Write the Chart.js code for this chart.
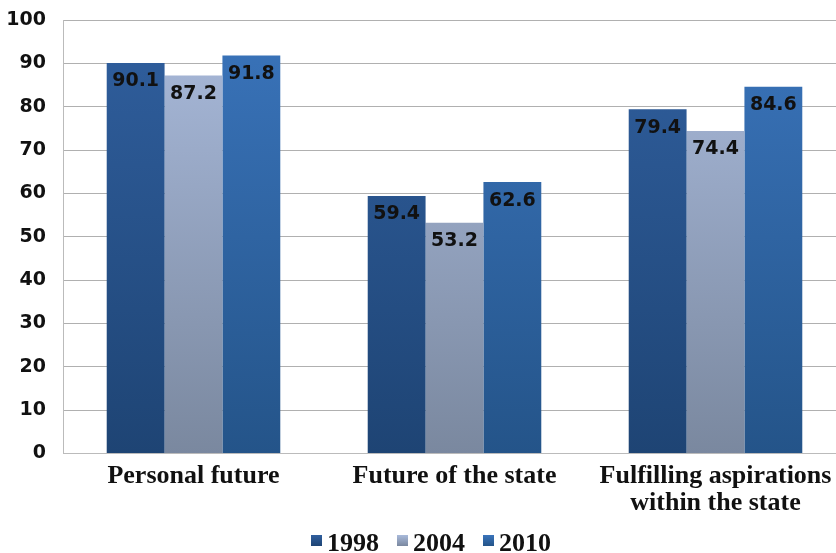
<!DOCTYPE html>
<html>
<head>
<meta charset="utf-8">
<script src="https://cdn.jsdelivr.net/npm/chart.js@4/dist/chart.umd.min.js"></script>
<style>
  html, body { margin: 0; padding: 0; background: #fff; overflow: hidden; }
  #wrap { width: 846px; height: 553px; }
</style>
</head>
<body>
<div id="wrap"><canvas id="chart"></canvas></div>
<script>
const categories = [['Personal future'], ['Future of the state'], ['Fulfilling aspirations', 'within the state']];
const seriesNames = ['1998', '2004', '2010'];
const values1998 = [90.1, 59.4, 79.4];
const values2004 = [87.2, 53.2, 74.4];
const values2010 = [91.8, 62.6, 84.6];

// top / bottom colours of each series gradient
const gradientStops = [
    ['#305f9e', '#1e4474'],
    ['#a9badb', '#7a889f'],
    ['#3a74bb', '#245489']
];

function barGradient(context, i) {
    const chartArea = context.chart.chartArea;
    if (!chartArea) return gradientStops[i][0];
    const g = context.chart.ctx.createLinearGradient(0, chartArea.top, 0, chartArea.bottom);
    g.addColorStop(0, gradientStops[i][0]);
    g.addColorStop(1, gradientStops[i][1]);
    return g;
}

// draw the values just inside the top of each bar
const valueLabels = {
    id: 'valueLabels',
    afterDatasetsDraw(chart) {
        const ctx = chart.ctx;
        ctx.save();
        ctx.font = 'bold 19px "DejaVu Sans"';
        ctx.fillStyle = '#111';
        ctx.textAlign = 'center';
        ctx.textBaseline = 'top';
        chart.data.datasets.forEach((ds, di) => {
            chart.getDatasetMeta(di).data.forEach((bar, idx) => {
                ctx.fillText(ds.data[idx].toFixed(1), bar.x, bar.y + 9);
            });
        });
        ctx.restore();
    }
};

// compact legend: small square tight against the year text, at the bottom
const bottomLegend = {
    id: 'bottomLegend',
    afterDraw(chart) {
        const ctx = chart.ctx;
        ctx.save();
        ctx.font = 'bold 26px "Liberation Serif"';
        ctx.textBaseline = 'alphabetic';
        const box = 11, gap = 5, itemGap = 18;
        const widths = seriesNames.map(n => box + gap + ctx.measureText(n).width);
        const total = widths.reduce((a, b) => a + b, 0) + itemGap * (widths.length - 1);
        let x = 431 - total / 2;
        const baseline = chart.height - 2;
        seriesNames.forEach((name, i) => {
            const g = ctx.createLinearGradient(0, baseline - 16, 0, baseline - 5);
            g.addColorStop(0, gradientStops[i][0]);
            g.addColorStop(1, gradientStops[i][1]);
            ctx.fillStyle = g;
            ctx.fillRect(x, baseline - 16, box, box);
            ctx.fillStyle = '#111';
            ctx.fillText(name, x + box + gap, baseline);
            x += widths[i] + itemGap;
        });
        ctx.restore();
    }
};

const datasets = [values1998, values2004, values2010].map((vals, i) => ({
    label: seriesNames[i],
    data: vals,
    backgroundColor: (context) => barGradient(context, i),
    borderWidth: 0,
    categoryPercentage: 0.665,
    barPercentage: 1.0
}));

new Chart(document.getElementById('chart'), {
    type: 'bar',
    data: { labels: categories, datasets: datasets },
    options: {
        responsive: true,
        maintainAspectRatio: false,
        animation: false,
        layout: { padding: { top: 20, right: 0, left: 0, bottom: 27 } },
        plugins: {
            tooltip: { enabled: false },
            legend: { display: false }
        },
        scales: {
            x: {
                grid: { display: false, drawTicks: false },
                border: { color: '#bbb' },
                afterFit(scale) {
                    scale.paddingLeft = 0;
                    scale.paddingRight = 0;
                    scale.paddingTop = 0;
                    scale.paddingBottom = 0;
                },
                ticks: {
                    color: '#111',
                    padding: 9,
                    maxRotation: 0,
                    font: { family: '"Liberation Serif"', weight: 'bold', size: 26, lineHeight: 1.05 }
                }
            },
            y: {
                min: 0,
                max: 100,
                afterFit(scale) {
                    scale.width = 63;
                    scale.paddingTop = 0;
                    scale.paddingBottom = 0;
                },
                ticks: {
                    stepSize: 10,
                    color: '#111',
                    padding: 17,
                    font: { family: '"DejaVu Sans"', weight: 'bold', size: 19 }
                },
                grid: { color: '#b0b0b0', drawTicks: false },
                border: { color: '#bbb' }
            }
        }
    },
    plugins: [valueLabels, bottomLegend]
});
</script>
</body>
</html>
